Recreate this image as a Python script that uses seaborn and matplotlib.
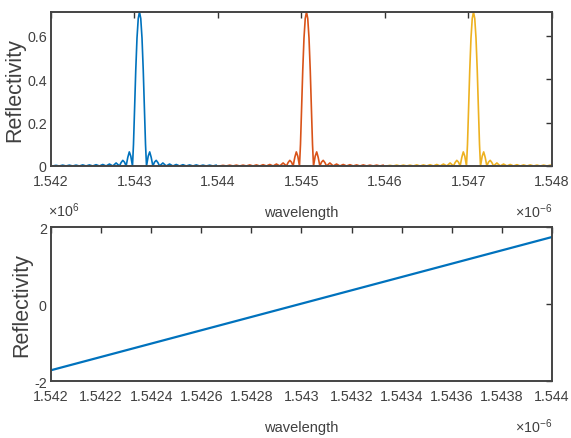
import matplotlib
matplotlib.use("Agg")
import matplotlib.pyplot as plt
import numpy as np
import seaborn as sns

# one grating reflection profile (right half, offset in nm)
profile_offset_nm = [0.000, 0.015, 0.030, 0.045, 0.060, 0.072, 0.084, 0.104, 0.122,
                     0.140, 0.160, 0.180, 0.200, 0.220, 0.240, 0.280, 0.320, 0.360,
                     0.400, 0.440, 0.480, 0.520, 0.560, 0.600, 0.640, 0.680, 0.720,
                     0.760, 0.800, 0.840, 0.880, 0.920, 0.960, 1.000, 1.040, 1.080]
profile_refl = [0.710, 0.680, 0.590, 0.440, 0.250, 0.100, 0.000, 0.045, 0.065,
                0.040, 0.000, 0.018, 0.026, 0.016, 0.000, 0.014, 0.000, 0.009,
                0.000, 0.007, 0.000, 0.006, 0.000, 0.005, 0.000, 0.005, 0.000,
                0.004, 0.000, 0.004, 0.000, 0.004, 0.000, 0.003, 0.000, 0.003]

# three gratings (units of 1e-6 m)
centers = [1.54306, 1.54506, 1.54706]
band_lo = [1.542, 1.544, 1.546]
band_hi = [1.544, 1.546, 1.548]
colors = ["#0072BD", "#D95319", "#EDB120"]

top_xticks = [1.542, 1.543, 1.544, 1.545, 1.546, 1.547, 1.548]
top_yticks = [0, 0.2, 0.4, 0.6]

# lower panel: straight line (x in 1e-6 m, y in 1e6)
line_x = [1.542, 1.544]
line_y = [-1.72, 1.74]
bot_xticks = [1.542, 1.5422, 1.5424, 1.5426, 1.5428, 1.543,
              1.5432, 1.5434, 1.5436, 1.5438, 1.544]
bot_yticks = [-2, 0, 2]

sns.set_style("white")
plt.rcParams["font.family"] = ["Liberation Sans", "DejaVu Sans"]
plt.rcParams["mathtext.fontset"] = "custom"
plt.rcParams["mathtext.rm"] = "Liberation Sans"
plt.rcParams["mathtext.it"] = "Liberation Sans"

tick_fs = 10.3
lab_fs = 10.5
txt_col = "#404040"

fig = plt.figure(figsize=(5.71, 4.39), dpi=100)
ax1 = fig.add_axes([0.0893, 0.6196, 0.8774, 0.3508])
ax2 = fig.add_axes([0.0893, 0.1298, 0.8774, 0.3508])

off = np.array(profile_offset_nm) / 1000.0
half = np.array(profile_refl)
full_off = np.concatenate([-off[::-1], off[1:]])
full_refl = np.concatenate([half[::-1], half[1:]])

for c, lo, hi, col in zip(centers, band_lo, band_hi, colors):
    x = c + full_off
    keep = (x >= lo) & (x <= hi)
    sns.lineplot(x=x[keep], y=full_refl[keep], ax=ax1, color=col, linewidth=1.2)

sns.lineplot(x=line_x, y=line_y, ax=ax2, color=colors[0], linewidth=1.6)

ax1.set_xlim(1.542, 1.548)
ax1.set_ylim(0, 0.71)
ax1.set_xticks(top_xticks)
ax1.set_xticklabels([f"{v:g}" for v in top_xticks])
ax1.set_yticks(top_yticks)
ax1.set_yticklabels([f"{v:g}" for v in top_yticks])

ax2.set_xlim(1.542, 1.544)
ax2.set_ylim(-2, 2)
ax2.set_xticks(bot_xticks)
ax2.set_xticklabels([f"{v:g}" for v in bot_xticks])
ax2.set_yticks(bot_yticks)
ax2.set_yticklabels([f"{v:g}" for v in bot_yticks])

for ax in (ax1, ax2):
    for s in ax.spines.values():
        s.set_visible(True)
        s.set_color("#444444")
        s.set_linewidth(1.4)
    ax.tick_params(direction="in", length=4, width=1.0, color="#333333",
                   top=True, right=True, labelsize=tick_fs, labelcolor=txt_col)
    ax.tick_params(axis="x", pad=6)
    ax.tick_params(axis="y", pad=3)
    ax.set_xlabel("wavelength", fontsize=lab_fs, color=txt_col, labelpad=12)
    ax.set_ylabel("Reflectivity", fontsize=15.5, color=txt_col, labelpad=1)
    ax.text(1.0, -0.29, r"$\times10^{-6}$", transform=ax.transAxes, ha="right",
            va="center", fontsize=tick_fs, color=txt_col)

ax2.text(-0.006, 1.115, r"$\times10^{6}$", transform=ax2.transAxes, ha="left",
         va="center", fontsize=tick_fs, color=txt_col)

fig.savefig("out.png", dpi=100)
